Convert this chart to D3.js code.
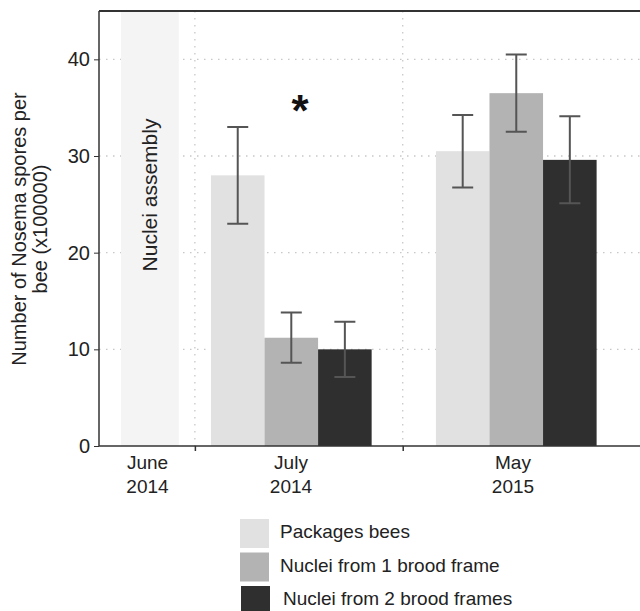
<!DOCTYPE html>
<meta charset="utf-8">
<style>
  body { margin: 0; background: #fff; }
  text { font-family: "Liberation Sans", Arial, sans-serif; }
</style>
<body>
<script src="https://d3js.org/d3.v7.min.js"></script>
<script>

// Data.

var periods = ["June 2014", "July 2014", "May 2015"];
var periodLines = [["June", "2014"], ["July", "2014"], ["May", "2015"]];
var series = ["Packages bees", "Nuclei from 1 brood frame", "Nuclei from 2 brood frames"];
var julyMeans = [28.0, 11.2, 10.0];
var julyErrors = [5.0, 2.6, 2.85];
var mayMeans = [30.5, 36.5, 29.6];
var mayErrors = [3.75, 4.0, 4.5];
var yTicks = [0, 10, 20, 30, 40];

// Layout.

var width = 640,
    height = 611;

var colors = ["#e1e1e1", "#b3b3b3", "#2f2f2f"];

var svg = d3.select("body").append("svg")
    .attr("width", width)
    .attr("height", height);

var y = d3.scaleLinear().domain([0, 45]).range([446, 11]);

// x is measured in bar widths from the y axis.
var x = d3.scaleLinear().domain([0, 10.1]).range([99, 640]);

var bands = [[0, 1.79], [1.79, 5.67], [5.67, 9.52]];
var groupStart = { "July 2014": 2.09, "May 2015": 6.29 };

// Gridlines.

var grid = svg.append("g")
    .attr("stroke", "#c8c8c8")
    .attr("stroke-width", 1.3)
    .attr("stroke-dasharray", "1.5,5.5");

grid.selectAll(".h")
    .data(yTicks.filter(function(d) { return d > 0; }))
  .enter().append("line")
    .attr("x1", x(0))
    .attr("x2", width)
    .attr("y1", function(d) { return y(d); })
    .attr("y2", function(d) { return y(d); });

grid.selectAll(".v")
    .data([bands[0][1], bands[1][1]])
  .enter().append("line")
    .attr("x1", function(d) { return x(d); })
    .attr("x2", function(d) { return x(d); })
    .attr("y1", y(45))
    .attr("y2", y(0));

// Nuclei assembly shading for June.

svg.append("rect")
    .attr("x", x(0.41))
    .attr("width", x(1.49) - x(0.41))
    .attr("y", y(45))
    .attr("height", y(0) - y(45))
    .attr("fill", "#f4f4f4");

svg.append("text")
    .attr("transform", "translate(157,195) rotate(-90)")
    .attr("text-anchor", "middle")
    .attr("font-size", "21px")
    .attr("fill", "#222")
    .text("Nuclei assembly");

// Bars.

var bars = [];
[["July 2014", julyMeans, julyErrors], ["May 2015", mayMeans, mayErrors]].forEach(function(g) {
    g[1].forEach(function(v, i) {
        bars.push({ period: g[0], i: i, mean: v, err: g[2][i] });
    });
});

svg.selectAll(".bar")
    .data(bars)
  .enter().append("rect")
    .attr("x", function(d) { return x(groupStart[d.period] + d.i); })
    .attr("width", x(1) - x(0))
    .attr("y", function(d) { return y(d.mean); })
    .attr("height", function(d) { return y(0) - y(d.mean); })
    .attr("fill", function(d) { return colors[d.i]; });

// Error bars.

var eb = svg.append("g")
    .attr("stroke", "#555")
    .attr("stroke-width", 2)
    .attr("fill", "none");

eb.selectAll("path")
    .data(bars)
  .enter().append("path")
    .attr("d", function(d) {
        var cx = x(groupStart[d.period] + d.i + 0.5),
            t = y(d.mean + d.err),
            b = y(d.mean - d.err),
            w = 10.5;
        return "M" + (cx - w) + "," + t + "H" + (cx + w) +
               "M" + cx + "," + t + "V" + b +
               "M" + (cx - w) + "," + b + "H" + (cx + w);
    });

// Significance mark.

svg.append("text")
    .attr("x", 300)
    .attr("y", 126)
    .attr("text-anchor", "middle")
    .attr("font-size", "44px")
    .attr("font-weight", "bold")
    .attr("fill", "#111")
    .text("*");

// Axes.

var yAxis = svg.append("g")
    .attr("transform", "translate(" + x(0) + ",0)")
    .call(d3.axisLeft(y).tickValues(yTicks).tickSize(5).tickPadding(4));

yAxis.select(".domain").attr("stroke", "#333").attr("stroke-width", 1.5)
    .attr("d", "M0," + y(45) + "V" + y(0));
yAxis.selectAll(".tick line").attr("stroke", "#333");
yAxis.selectAll(".tick text")
    .attr("font-size", "20px")
    .attr("fill", "#222")
    .style("font-family", "Liberation Sans, Arial, sans-serif");

var xAxis = svg.append("g")
    .attr("transform", "translate(0," + y(0) + ")")
    .call(d3.axisBottom(x).tickValues([bands[0][1], bands[1][1]]).tickSize(5).tickFormat(""));

xAxis.select(".domain").attr("stroke", "#333").attr("stroke-width", 1.5)
    .attr("d", "M" + x(0) + ",0H" + width);
xAxis.selectAll(".tick line").attr("stroke", "#333").attr("stroke-width", 1.5);

// Top frame line.

svg.append("line")
    .attr("x1", x(0))
    .attr("x2", width)
    .attr("y1", y(45))
    .attr("y2", y(45))
    .attr("stroke", "#333")
    .attr("stroke-width", 2);

// Category labels.

var labelX = [147.5, 291, 513];

var catLabels = svg.selectAll(".cat")
    .data(periods)
  .enter().append("text")
    .attr("text-anchor", "middle")
    .attr("font-size", "19px")
    .attr("fill", "#222")
    .attr("transform", function(d, i) { return "translate(" + labelX[i] + ",469)"; });

catLabels.selectAll("tspan")
    .data(function(d, i) { return periodLines[i]; })
  .enter().append("tspan")
    .attr("x", 0)
    .attr("dy", function(d, j) { return j ? 24 : 0; })
    .text(function(d) { return d; });

// Y axis title.

var yTitle = svg.append("text")
    .attr("transform", "translate(25.5,229) rotate(-90)")
    .attr("text-anchor", "middle")
    .attr("font-size", "20px")
    .attr("fill", "#222");

yTitle.append("tspan").attr("x", 0).attr("dy", 0).text("Number of Nosema spores per");
yTitle.append("tspan").attr("x", 0).attr("dy", 21).text("bee (x100000)");

// Legend.

var legend = svg.selectAll(".legend")
    .data(series)
  .enter().append("g")
    .attr("transform", function(d, i) { return "translate(" + (240 + (i === 2 ? 1 : 0)) + "," + (519 + i * 33.5) + ")"; });

legend.append("rect")
    .attr("width", 29)
    .attr("height", 29)
    .attr("fill", function(d, i) { return colors[i]; });

legend.append("text")
    .attr("x", function(d, i) { return i === 2 ? 42 : 40; })
    .attr("y", 19)
    .attr("font-size", "19px")
    .attr("fill", "#222")
    .text(function(d) { return d; });

</script>
